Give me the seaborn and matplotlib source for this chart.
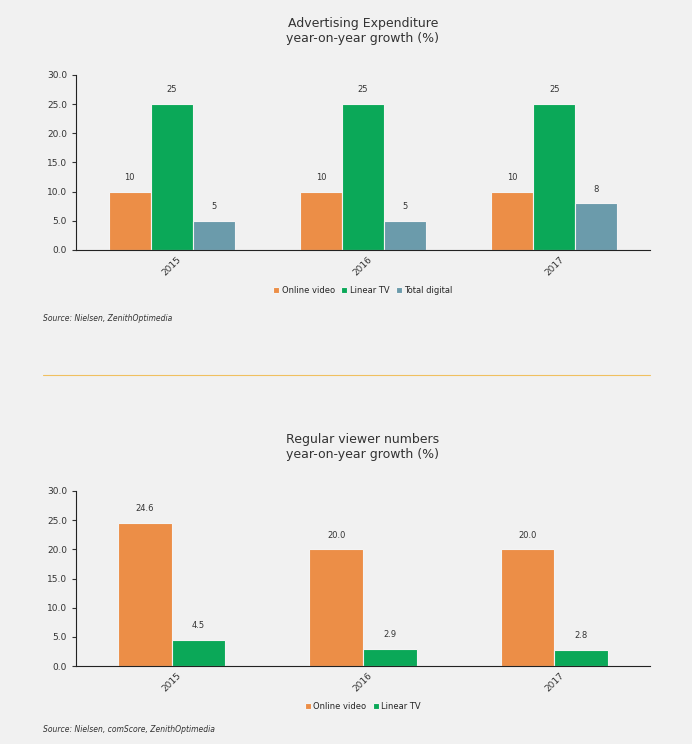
import matplotlib
matplotlib.use("Agg")
import matplotlib.pyplot as plt
import seaborn as sns
import pandas as pd

years = ["2015", "2016", "2017"]
ad_online = [10, 10, 10]
ad_linear = [25, 25, 25]
ad_digital = [5, 5, 8]
ad_series = ["Online video", "Linear TV", "Total digital"]
ad_labels = [["10", "10", "10"], ["25", "25", "25"], ["5", "5", "8"]]

vw_online = [24.6, 20.0, 20.0]
vw_linear = [4.5, 2.9, 2.8]
vw_series = ["Online video", "Linear TV"]
vw_labels = [["24.6", "20.0", "20.0"], ["4.5", "2.9", "2.8"]]

colors = ["#ec8e47", "#0ba858", "#6b9bab"]
BG = "#f1f1f1"

sns.set_style("ticks")
plt.rcParams["font.family"] = ["DejaVu Sans"]

fig = plt.figure(figsize=(6.92, 7.44), dpi=100, facecolor=BG)
ax1 = fig.add_axes([76/692, 1-250/744, 574/692, 175/744])
ax2 = fig.add_axes([76/692, 1-666/744, 574/692, 175/744])

def draw(ax, df, series, labels, width, title, legend_y, src, src_y):
    ax.set_facecolor(BG)
    sns.barplot(data=df, x="year", y="value", hue="series", hue_order=series,
                palette=colors[:len(series)], width=width, ax=ax,
                edgecolor="#f4f4f4", linewidth=0.8, saturation=1)
    for cont, labs in zip(ax.containers, labels):
        ax.bar_label(cont, labels=labs, padding=7, fontsize=6, color="#333333")
    ax.set_ylim(0, 30)
    ax.set_yticks([0, 5, 10, 15, 20, 25, 30])
    ax.set_yticklabels([f"{v:.1f}" for v in [0, 5, 10, 15, 20, 25, 30]])
    ax.tick_params(axis="y", labelsize=6.5, length=3, width=0.8, colors="#333333")
    ax.tick_params(axis="x", labelsize=6.5, length=0, rotation=45, colors="#333333")
    ax.set_xlabel(""); ax.set_ylabel("")
    sns.despine(ax=ax)
    for s in ["left", "bottom"]:
        ax.spines[s].set_color("#222222"); ax.spines[s].set_linewidth(0.8)
    ax.set_title(title, fontsize=9, color="#333333", pad=24)
    ax.legend(loc="center", bbox_to_anchor=(0.5, legend_y), ncol=len(series),
              frameon=False, fontsize=6, handlelength=0.7, handleheight=0.7,
              columnspacing=0.8, handletextpad=0.3)
    fig.text(43/692, src_y, src, fontsize=5.5, style="italic", color="#333333", va="center")

df1 = pd.DataFrame({"year": years * 3,
                    "value": ad_online + ad_linear + ad_digital,
                    "series": sum([[s] * 3 for s in ad_series], [])})
draw(ax1, df1, ad_series, ad_labels, 0.66,
     "Advertising Expenditure\nyear-on-year growth (%)", -0.23,
     "Source: Nielsen, ZenithOptimedia", 1-318/744)

df2 = pd.DataFrame({"year": years * 2,
                    "value": vw_online + vw_linear,
                    "series": sum([[s] * 3 for s in vw_series], [])})
draw(ax2, df2, vw_series, vw_labels, 0.56,
     "Regular viewer numbers\nyear-on-year growth (%)", -0.23,
     "Source: Nielsen, comScore, ZenithOptimedia", 1-729/744)

fig.add_artist(plt.Line2D([43/692, 650/692], [1-375/744, 1-375/744],
                          color="#f0c060", linewidth=0.8, transform=fig.transFigure))

fig.savefig("out.png", dpi=100, facecolor=BG)
